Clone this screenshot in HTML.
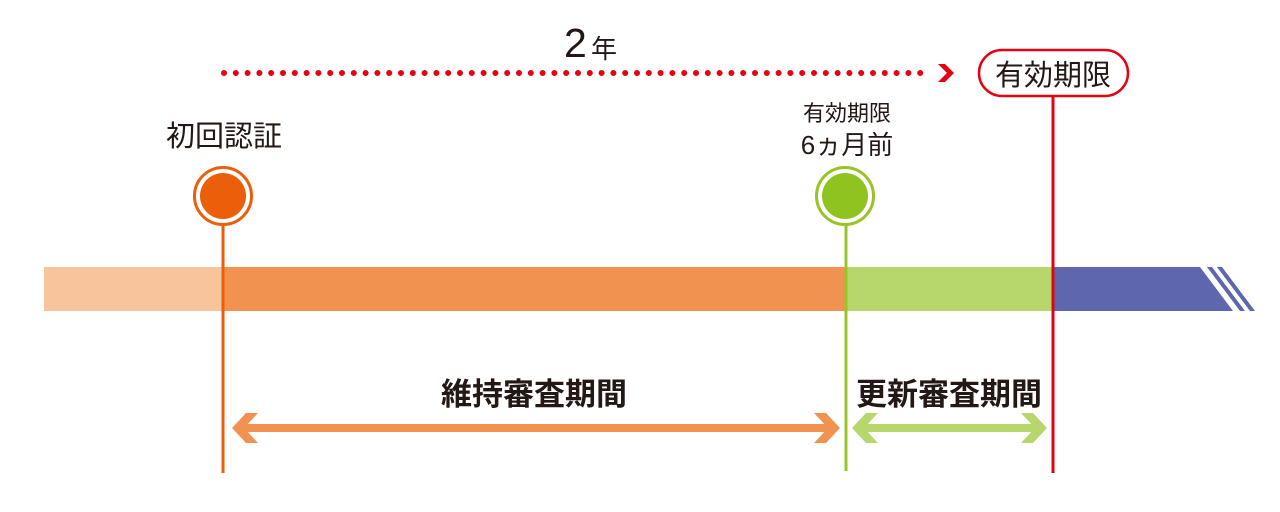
<!DOCTYPE html>
<html><head><meta charset="utf-8"><style>
html,body{margin:0;padding:0;background:#fff;width:1280px;height:512px;overflow:hidden}
text{font-family:"Liberation Sans","Noto Sans CJK JP",sans-serif;fill:#231815}
</style></head><body>
<svg width="1280" height="512" viewBox="0 0 1280 512" xmlns="http://www.w3.org/2000/svg">
<!-- bar -->
<rect x="44" y="267" width="180" height="44" fill="#f7c49b"/>
<rect x="223" y="267" width="624" height="44" fill="#f19250"/>
<rect x="846" y="267" width="207" height="44" fill="#b7d76d"/>
<polygon points="1052,267 1200,267 1233,311 1052,311" fill="#5e67ae"/>
<polygon points="1207,267 1212,267 1245,311 1240,311" fill="#5e67ae"/>
<polygon points="1217,267 1222,267 1255,311 1250,311" fill="#5e67ae"/>
<!-- vertical lines -->
<line x1="223" y1="225" x2="223" y2="473" stroke="#eb5e0a" stroke-width="3"/>
<line x1="846" y1="225" x2="846" y2="471" stroke="#98c428" stroke-width="3"/>
<line x1="1053" y1="97" x2="1053" y2="473" stroke="#e50012" stroke-width="3"/>
<!-- circles -->
<circle cx="223" cy="196" r="28.5" fill="#fff" stroke="#eb5e0a" stroke-width="3"/>
<circle cx="223" cy="196" r="23" fill="#eb5e0a"/>
<circle cx="845" cy="196" r="28.5" fill="#fff" stroke="#98c428" stroke-width="3"/>
<circle cx="845" cy="196" r="23" fill="#8fc31f"/>
<!-- dotted -->
<line x1="224" y1="73" x2="930" y2="73" stroke="#e50012" stroke-width="6" stroke-linecap="round" stroke-dasharray="0 11.8"/>
<polygon points="938,64 945,64 954,73 945,82 938,82 947,73" fill="#e50012"/>
<text x="564" y="57" font-size="41">2</text>
<text x="591" y="58" font-size="26">年</text>
<!-- pill -->
<rect x="979" y="50" width="149" height="46" rx="23" fill="#fff" stroke="#e50012" stroke-width="2.5"/>
<text x="1053" y="85" font-size="29" text-anchor="middle">有効期限</text>
<text x="224" y="146" font-size="29" text-anchor="middle">初回認証</text>
<text x="847" y="121" font-size="22" text-anchor="middle">有効期限</text>
<text x="847" y="154" font-size="26" text-anchor="middle">6ヵ月前</text>
<!-- arrows -->
<line x1="240" y1="428" x2="830" y2="428" stroke="#f19250" stroke-width="8"/>
<polygon points="232,428 246,413 258,413 244,428 258,443 246,443" fill="#f19250"/>
<polygon points="840,428 826,413 814,413 828,428 814,443 826,443" fill="#f19250"/>
<line x1="860" y1="428" x2="1038" y2="428" stroke="#b7d76d" stroke-width="8"/>
<polygon points="852,428 866,413 878,413 864,428 878,443 866,443" fill="#b7d76d"/>
<polygon points="1047,428 1033,413 1021,413 1035,428 1021,443 1033,443" fill="#b7d76d"/>
<text x="534" y="405" font-size="31" font-weight="bold" text-anchor="middle">維持審査期間</text>
<text x="949" y="405" font-size="31" font-weight="bold" text-anchor="middle">更新審査期間</text>
</svg>
</body></html>
